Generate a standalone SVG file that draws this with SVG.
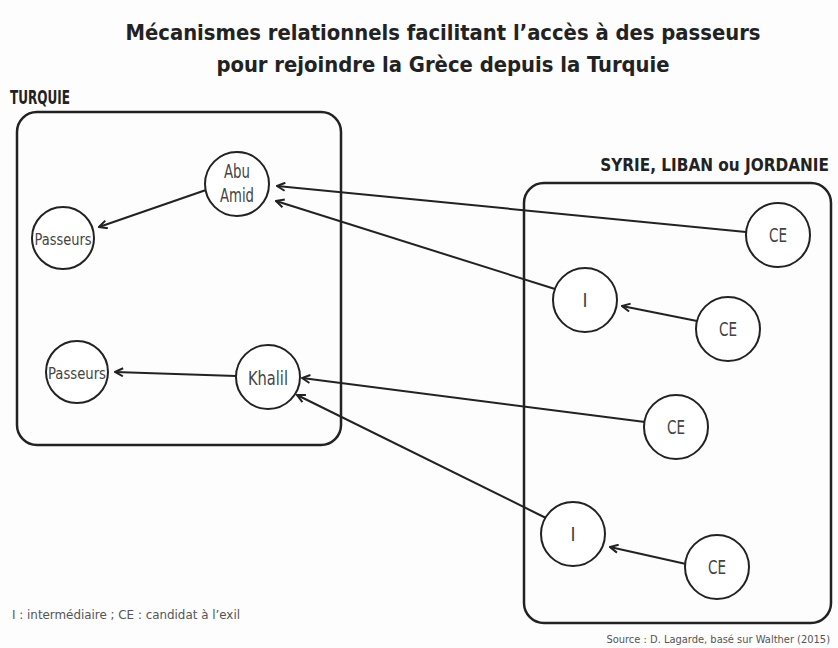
<svg xmlns="http://www.w3.org/2000/svg" width="838" height="648" viewBox="0 0 838 648">
<defs>
<style>
text{font-family:"DejaVu Sans Condensed","Liberation Sans",sans-serif;font-stretch:condensed;fill:#333;}
.title{font-size:21.8px;font-weight:bold;fill:#222;text-anchor:middle;}
.region{font-size:19px;font-weight:bold;fill:#222;}
.lbl{font-size:19px;text-anchor:middle;fill:#444;}
.small{font-size:16px;text-anchor:middle;fill:#444;}
.note{font-size:13px;fill:#555;}
.box{fill:none;stroke:#222;stroke-width:2.5;}
.node circle{fill:#fff;stroke:#222;stroke-width:2;}
.edge{stroke:#222;stroke-width:2;fill:none;marker-end:url(#arr);}
</style>
<marker id="arr" viewBox="0 0 10 10" refX="9" refY="5" markerWidth="5" markerHeight="5" orient="auto" markerUnits="strokeWidth">
<polyline points="1,1 9,5 1,9" fill="none" stroke="#222" stroke-width="2"/>
</marker>
</defs>
<rect width="838" height="648" fill="#fdfdfd"/>
<text class="title" x="443" y="40">Mécanismes relationnels facilitant l’accès à des passeurs</text>
<text class="title" x="443" y="72">pour rejoindre la Grèce depuis la Turquie</text>
<text class="region" x="10" y="104" textLength="60" lengthAdjust="spacingAndGlyphs">TURQUIE</text>
<text class="region" x="829" y="171" text-anchor="end" style="font-size:17px">SYRIE, LIBAN ou JORDANIE</text>
<rect class="box" x="17" y="112" width="324" height="333" rx="20"/>
<rect class="box" x="524" y="183" width="307" height="440" rx="20"/>
<g id="connectors">
<line class="edge" x1="746" y1="232" x2="277" y2="186"/>
<line class="edge" x1="555" y1="289" x2="276" y2="201"/>
<line class="edge" x1="206" y1="190" x2="99" y2="227"/>
<line class="edge" x1="697" y1="321" x2="622" y2="306"/>
<line class="edge" x1="645" y1="422" x2="302" y2="378"/>
<line class="edge" x1="546" y1="518" x2="297" y2="395"/>
<line class="edge" x1="236" y1="376" x2="115" y2="372"/>
<line class="edge" x1="686" y1="564" x2="610" y2="547"/>
</g>
<g id="abu" class="node"><circle cx="237" cy="184" r="32"/><text class="lbl" x="237" y="178" textLength="26" lengthAdjust="spacingAndGlyphs">Abu</text><text class="lbl" x="237" y="202" textLength="34" lengthAdjust="spacingAndGlyphs">Amid</text></g>
<g id="passeurs1" class="node"><circle cx="63" cy="238" r="31"/><text class="small" x="63" y="245" textLength="57" lengthAdjust="spacingAndGlyphs">Passeurs</text></g>
<g id="passeurs2" class="node"><circle cx="77" cy="372" r="31"/><text class="small" x="77" y="379" textLength="58" lengthAdjust="spacingAndGlyphs">Passeurs</text></g>
<g id="khalil" class="node"><circle cx="268" cy="377" r="32"/><text class="lbl" x="268" y="385" textLength="40" lengthAdjust="spacingAndGlyphs">Khalil</text></g>
<g id="ce1" class="node"><circle cx="778" cy="235" r="32"/><text class="lbl" x="778" y="242" textLength="18" lengthAdjust="spacingAndGlyphs">CE</text></g>
<g id="i1" class="node"><circle cx="585" cy="300" r="32"/><text class="lbl" x="585" y="307">I</text></g>
<g id="ce2" class="node"><circle cx="728" cy="329" r="32"/><text class="lbl" x="728" y="336" textLength="18" lengthAdjust="spacingAndGlyphs">CE</text></g>
<g id="ce3" class="node"><circle cx="676" cy="427" r="32"/><text class="lbl" x="676" y="434" textLength="18" lengthAdjust="spacingAndGlyphs">CE</text></g>
<g id="i2" class="node"><circle cx="573" cy="534" r="32"/><text class="lbl" x="573" y="541">I</text></g>
<g id="ce4" class="node"><circle cx="717" cy="567" r="32"/><text class="lbl" x="717" y="574" textLength="18" lengthAdjust="spacingAndGlyphs">CE</text></g>
<text class="note" x="12" y="619" textLength="228" lengthAdjust="spacingAndGlyphs">I : intermédiaire ; CE : candidat à l’exil</text>
<text class="note" x="830" y="643" text-anchor="end" style="font-size:11px">Source : D. Lagarde, basé sur Walther (2015)</text>
</svg>
